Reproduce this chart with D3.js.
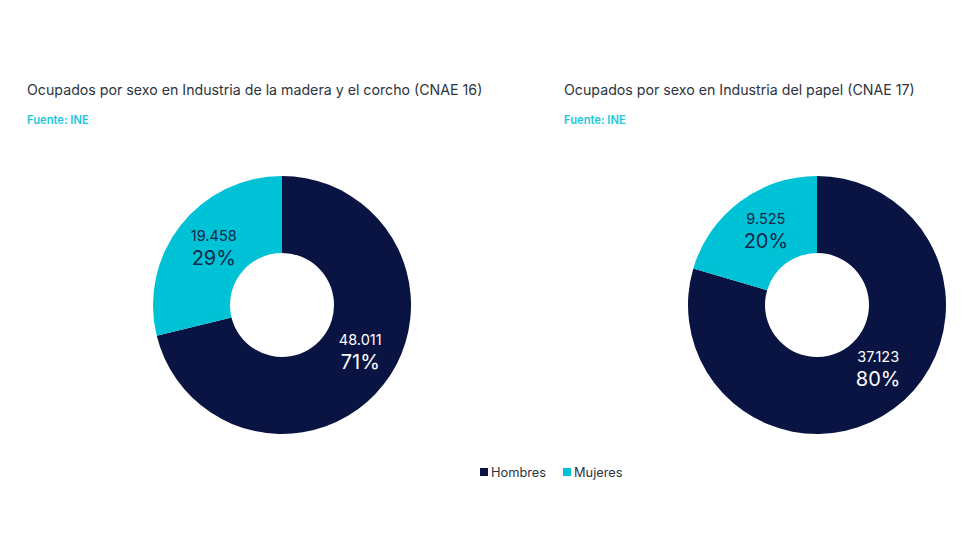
<!DOCTYPE html>
<html><head><meta charset="utf-8">
<script src="https://cdn.jsdelivr.net/npm/d3@7/dist/d3.min.js"></script>
<style>body{margin:0;background:#fff;font-family:Inter,"Open Sans",sans-serif;}</style>
</head><body><svg id="c" width="980" height="560"></svg>
<script>
const categories = ["Hombres", "Mujeres"];
const titles = ["Ocupados por sexo en Industria de la madera y el corcho (CNAE 16)", "Ocupados por sexo en Industria del papel (CNAE 17)"];
const sources = ["Fuente: INE", "Fuente: INE"];
const madera = [48011, 19458];
const papel = [37123, 9525];
const percentLabels = [["71%", "29%"], ["80%", "20%"]];
const numberLabels = [["48.011", "19.458"], ["37.123", "9.525"]];
const colors = ["#0a1442", "#00c2d6"];
const textColors = ["#ffffff", "#13284a"];

const svg = d3.select("#c");
const panels = [
  {x0: 27, cx: 282, data: madera},
  {x0: 564, cx: 817, data: papel}
];
const cy = 305, rO = 129, rI = 52;
const color = d3.scaleOrdinal().domain(categories).range(colors);
const pie = d3.pie().sort(null).value(d => d.v);
const arc = d3.arc().innerRadius(rI).outerRadius(rO);
const nudge = [[7, -10], [3, -2]];

panels.forEach((p, i) => {
  svg.append("text").attr("x", p.x0).attr("y", 95).attr("fill", "#2b3440")
    .attr("font-size", 14.2).text(titles[i]);
  svg.append("text").attr("x", p.x0).attr("y", 124).attr("fill", "#1cc6dd")
    .attr("font-size", 11.2).attr("font-weight", 600).text(sources[i]);
  const rows = categories.map((c, j) => ({c, v: p.data[j], j}));
  const g = svg.append("g").attr("transform", `translate(${p.cx},${cy})`);
  const arcs = pie(rows);
  g.selectAll("path").data(arcs).join("path").attr("d", arc).attr("fill", d => color(d.data.c));
  const lab = g.selectAll("g.l").data(arcs).join("g").attr("class", "l")
    .attr("transform", d => { const [x, y] = arc.centroid(d); const n = nudge[d.data.j]; return `translate(${x + n[0]},${y + n[1]})`; });
  lab.append("text").attr("text-anchor", "middle").attr("y", -6).attr("font-size", 14.5)
    .attr("fill", d => textColors[d.data.j]).text(d => numberLabels[i][d.data.j]);
  lab.append("text").attr("text-anchor", "middle").attr("y", 18).attr("font-size", 20)
    .attr("fill", d => textColors[d.data.j]).text(d => percentLabels[i][d.data.j]);
});

const legend = svg.append("g").attr("transform", "translate(480,472)");
const lx = [0, 83];
categories.forEach((c, j) => {
  const lg = legend.append("g").attr("transform", `translate(${lx[j]},0)`);
  lg.append("rect").attr("x", 0).attr("y", -4).attr("width", 8).attr("height", 8).attr("fill", color(c));
  lg.append("text").attr("x", 11).attr("y", 5).attr("font-size", 12.8).attr("fill", "#2b3440").text(c);
});
</script></body></html>
